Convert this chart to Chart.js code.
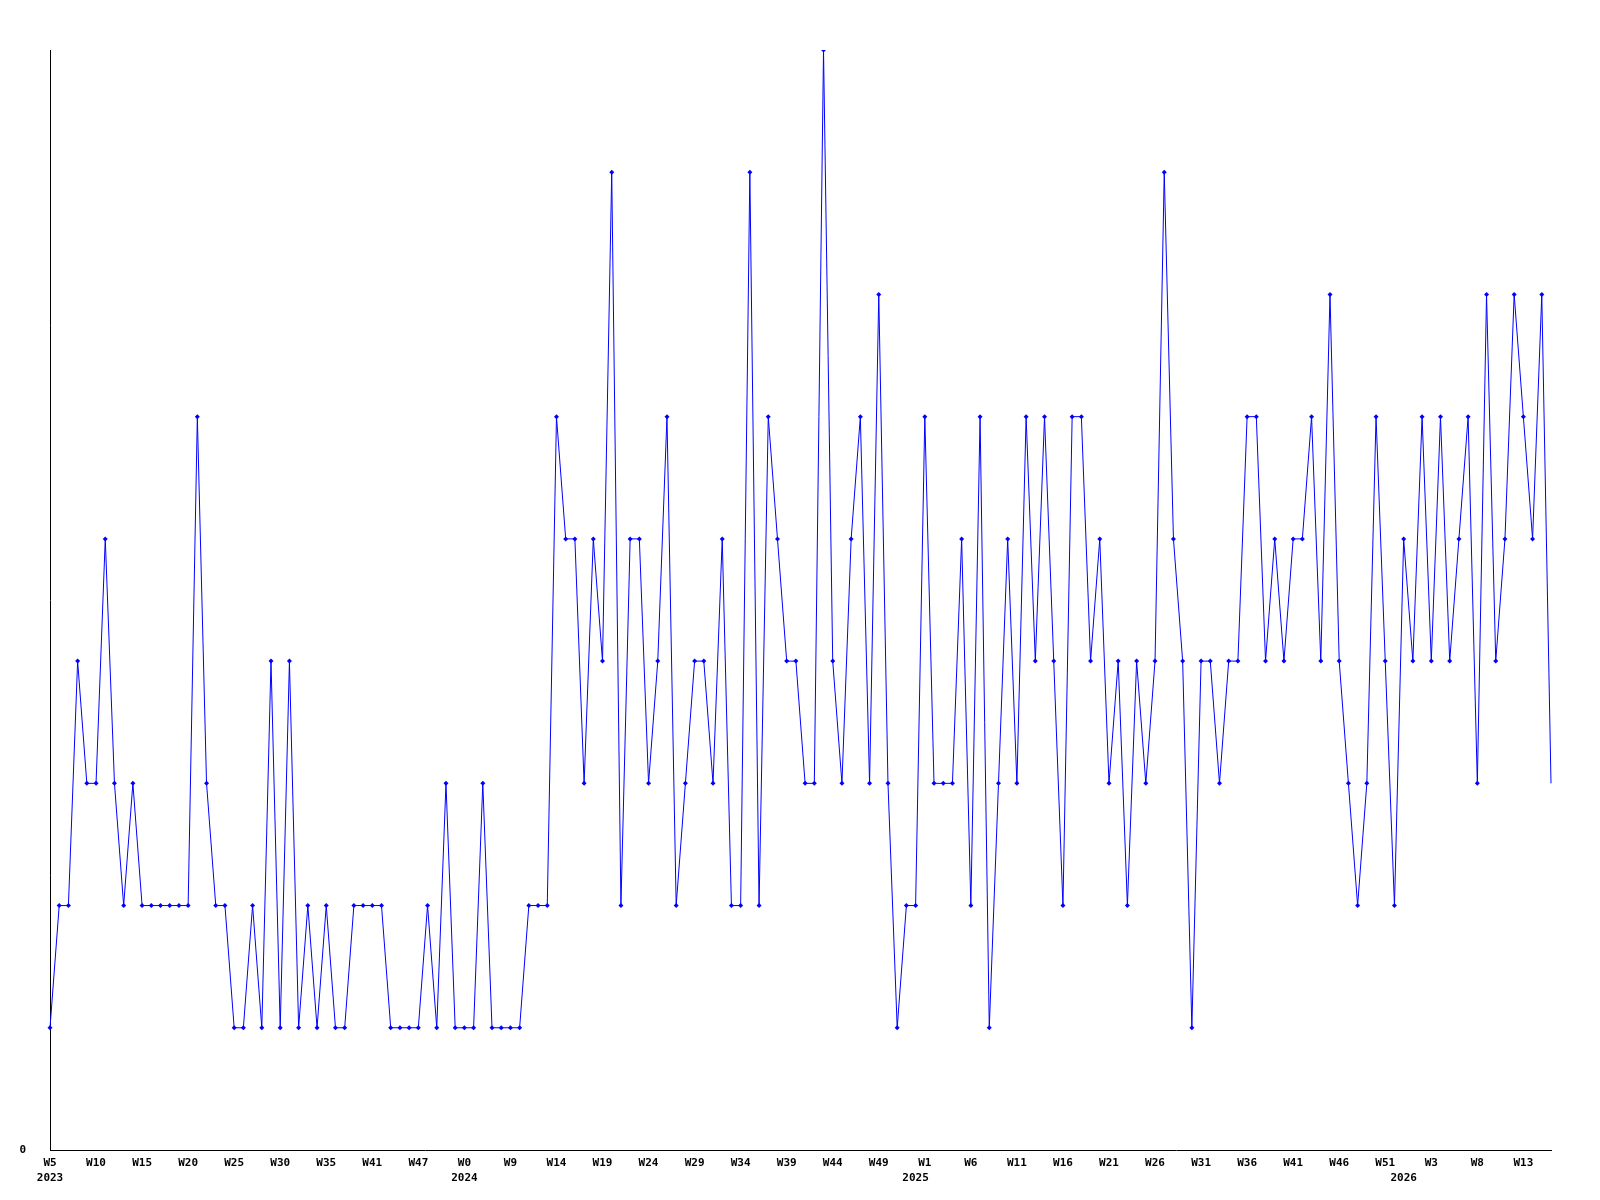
<!DOCTYPE html>
<html>
<head>
<meta charset="utf-8">
<script src="https://cdn.jsdelivr.net/npm/chart.js@4/dist/chart.umd.min.js"></script>
<style>
  body { margin: 0; background: #fff; }
  canvas { display: block; }
</style>
</head>
<body>
<canvas id="weeklyChart" width="1600" height="1200"></canvas>
<script>
// week labels shown every 5th point
const weekLabels = ['W5', 'W10', 'W15', 'W20', 'W25', 'W30', 'W35', 'W41', 'W47', 'W0', 'W9',
    'W14', 'W19', 'W24', 'W29', 'W34', 'W39', 'W44', 'W49', 'W1', 'W6', 'W11', 'W16',
    'W21', 'W26', 'W31', 'W36', 'W41', 'W46', 'W51', 'W3', 'W8', 'W13'];
const yearLabels = ['2023', '2024', '2025', '2026'];
const yearAt = [0, 45, 94, 147]; // point index where each year label sits

// weekly counts
const counts = [
    1, 2, 2, 4, 3, 3, 5, 3, 2, 3,
    2, 2, 2, 2, 2, 2, 6, 3, 2, 2,
    1, 1, 2, 1, 4, 1, 4, 1, 2, 1,
    2, 1, 1, 2, 2, 2, 2, 1, 1, 1,
    1, 2, 1, 3, 1, 1, 1, 3, 1, 1,
    1, 1, 2, 2, 2, 6, 5, 5, 3, 5,
    4, 8, 2, 5, 5, 3, 4, 6, 2, 3,
    4, 4, 3, 5, 2, 2, 8, 2, 6, 5,
    4, 4, 3, 3, 9, 4, 3, 5, 6, 3,
    7, 3, 1, 2, 2, 6, 3, 3, 3, 5,
    2, 6, 1, 3, 5, 3, 6, 4, 6, 4,
    2, 6, 6, 4, 5, 3, 4, 2, 4, 3,
    4, 8, 5, 4, 1, 4, 4, 3, 4, 4,
    6, 6, 4, 5, 4, 5, 5, 6, 4, 7,
    4, 3, 2, 3, 6, 4, 2, 5, 4, 6,
    4, 6, 4, 5, 6, 3, 7, 4, 5, 7,
    6, 5, 7, 3
];

const categories = counts.map((c, i) => i);

function tickText(i) {
    const week = (i % 5 === 0 && weekLabels[i / 5]) ? weekLabels[i / 5] : '';
    const y = yearAt.indexOf(i);
    if (y >= 0) return [week, yearLabels[y]];
    return week;
}

const tickFont = { family: 'DejaVu Sans Mono', size: 11, weight: 'bold', lineHeight: 1.4 };

new Chart(document.getElementById('weeklyChart').getContext('2d'), {
    type: 'line',
    data: {
        labels: categories,
        datasets: [{
            data: counts,
            borderColor: '#0000ff',
            backgroundColor: '#0000ff',
            borderWidth: 1,
            tension: 0,
            fill: false,
            pointStyle: 'rectRot',
            // last point is drawn without a marker in the original
            pointRadius: (ctx) => ctx.dataIndex === counts.length - 1 ? 0 : 2.5,
            pointBorderWidth: 0
        }]
    },
    options: {
        responsive: false,
        animation: false,
        layout: { padding: { top: 50, right: 49, left: 0, bottom: 0 } },
        plugins: { legend: { display: false }, tooltip: { enabled: false } },
        scales: {
            x: {
                grid: { display: false, drawTicks: false },
                border: { display: true, color: '#000', width: 1 },
                ticks: {
                    autoSkip: false,
                    maxRotation: 0,
                    padding: 5,
                    color: '#000',
                    font: tickFont,
                    callback: (v, i) => tickText(i)
                },
                afterFit: (scale) => { scale.height = 50; }
            },
            y: {
                min: 0,
                max: 9,
                grid: { display: false, drawTicks: false },
                border: { display: true, color: '#000', width: 1 },
                ticks: {
                    stepSize: 1,
                    padding: 24,
                    color: '#000',
                    font: tickFont,
                    callback: (v) => v === 0 ? '0' : ''
                },
                afterFit: (scale) => { scale.width = 50; }
            }
        }
    }
});
</script>
</body>
</html>
